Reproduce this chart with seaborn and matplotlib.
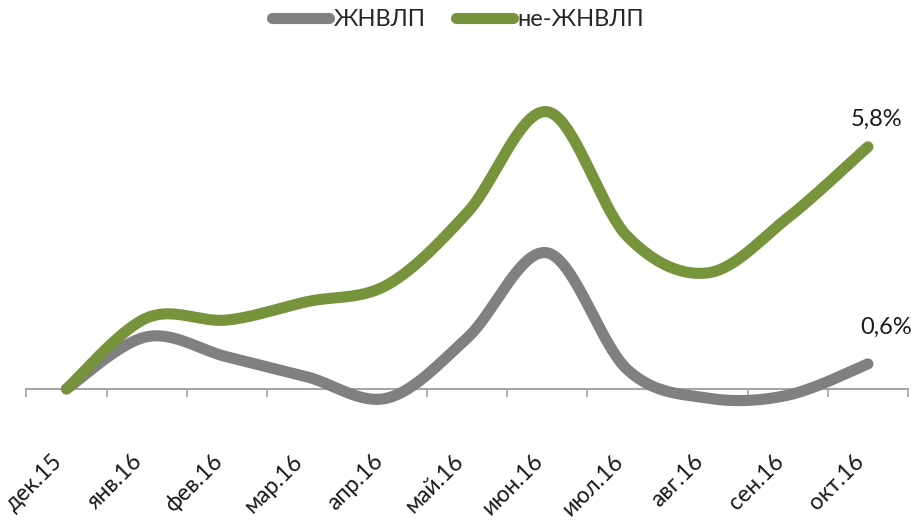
import matplotlib
matplotlib.use("Agg")
import matplotlib.pyplot as plt
from matplotlib.ticker import FixedLocator
import seaborn as sns
import numpy as np
import pandas as pd

# Данные
months = ["дек.15", "янв.16", "фев.16", "мар.16", "апр.16", "май.16",
          "июн.16", "июл.16", "авг.16", "сен.16", "окт.16"]
zhnvlp = [0.0, 1.25, 0.77, 0.29, -0.22, 1.22, 3.26, 0.46, -0.22, -0.15, 0.6]
ne_zhnvlp = [0.0, 1.70, 1.65, 2.09, 2.49, 4.22, 6.64, 3.65, 2.78, 4.10, 5.8]
last_labels = ["0,6%", "5,8%"]

GRAY = "#808080"
GREEN = "#77933C"


def smooth(ys, n=40):
    # сглаживание как в Excel (Catmull-Rom)
    p = np.asarray(ys, dtype=float)
    xs = np.arange(len(p), dtype=float)
    px = np.concatenate([[xs[0]], xs, [xs[-1]]])
    py = np.concatenate([[p[0]], p, [p[-1]]])
    out_x, out_y = [], []
    t = np.linspace(0, 1, n)
    for i in range(1, len(px) - 2):
        x0, x1, x2, x3 = px[i - 1:i + 3]
        y0, y1, y2, y3 = py[i - 1:i + 3]
        bx = [x1, x1 + (x2 - x0) / 6, x2 - (x3 - x1) / 6, x2]
        by = [y1, y1 + (y2 - y0) / 6, y2 - (y3 - y1) / 6, y2]
        b = [(1 - t) ** 3, 3 * (1 - t) ** 2 * t, 3 * (1 - t) * t ** 2, t ** 3]
        out_x.append(sum(c * w for c, w in zip(bx, b)))
        out_y.append(sum(c * w for c, w in zip(by, b)))
    return np.concatenate(out_x), np.concatenate(out_y)


sns.set_theme(style="white")
plt.rcParams["font.family"] = ["Lato", "DejaVu Sans"]

fig = plt.figure(figsize=(9.11, 5.23), dpi=100)
ax = fig.add_axes([0.029, 0.1765, 0.9677, 0.6785])

for name, vals, col in [("ЖНВЛП", zhnvlp, GRAY), ("не-ЖНВЛП", ne_zhnvlp, GREEN)]:
    sx, sy = smooth(vals)
    df = pd.DataFrame({"x": sx, "y": sy})
    sns.lineplot(data=df, x="x", y="y", sort=False, color=col, lw=8,
                 solid_capstyle="round", label=name, ax=ax, zorder=3)

# подписи последних точек
ax.annotate(last_labels[1], (len(months) - 1, ne_zhnvlp[-1]), xytext=(9, 17),
            textcoords="offset pixels", ha="center", va="bottom", fontsize=17, color="#1a1a1a")
ax.annotate(last_labels[0], (len(months) - 1, zhnvlp[-1]), xytext=(18, 26),
            textcoords="offset pixels", ha="center", va="bottom", fontsize=17, color="#1a1a1a")

ax.set_xlim(-0.5, len(months) - 0.5)
ax.set_ylim(-1, 7.5)
ax.set_xlabel("")
ax.set_ylabel("")
ax.set_yticks([])

for s in ["top", "right", "left"]:
    ax.spines[s].set_visible(False)
ax.spines["bottom"].set_position(("data", 0))
ax.spines["bottom"].set_color("#A6A6A6")
ax.spines["bottom"].set_linewidth(1.5)
ax.spines["bottom"].set_zorder(2)

ax.set_xticks(range(len(months)))
ax.set_xticklabels(months, rotation=45, ha="right", va="bottom", rotation_mode="anchor",
                   fontsize=16.5, color="#1a1a1a")
ax.xaxis.set_minor_locator(FixedLocator(np.arange(-0.5, len(months), 1.0)))
ax.tick_params(axis="x", which="major", length=0, pad=55)
ax.tick_params(axis="x", which="minor", length=6, width=1.2, color="#A6A6A6",
               direction="out", bottom=True)

leg = ax.legend(loc="center", bbox_to_anchor=(0.49, 1.158), ncol=2, frameon=False,
                fontsize=17, handlelength=2.4, handletextpad=0.2, columnspacing=1.3)
for h in leg.get_lines():
    h.set_linewidth(8)
    h.set_solid_capstyle("round")

fig.savefig("out.png", dpi=100)
